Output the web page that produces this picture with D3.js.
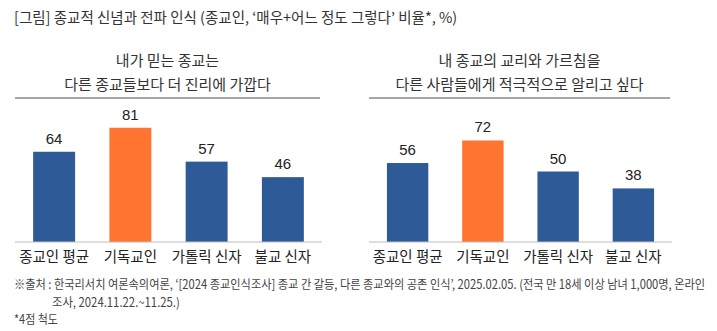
<!DOCTYPE html>
<html><head><meta charset="utf-8">
<script src="https://cdn.jsdelivr.net/npm/d3@7"></script>
<style>
body{margin:0;background:#fff;}
svg{display:block;font-family:"Noto Sans CJK KR","Noto Sans",sans-serif;}
</style></head>
<body>
<svg id="c" width="717" height="331"></svg>
<script>
const categories = ["종교인 평균", "기독교인", "가톨릭 신자", "불교 신자"];
const valuesLeft = [64, 81, 57, 46];
const valuesRight = [56, 72, 50, 38];
const highlight = "기독교인";
const titleLeft = ["내가 믿는 종교는", "다른 종교들보다 더 진리에 가깝다"];
const titleRight = ["내 종교의 교리와 가르침을", "다른 사람들에게 적극적으로 알리고 싶다"];
const mainTitle = "[그림] 종교적 신념과 전파 인식 (종교인, ‘매우+어느 정도 그렇다’ 비율*, %)";
const notes = [
  "※출처 : 한국리서치 여론속의여론, ‘[2024 종교인식조사] 종교 간 갈등, 다른 종교와의 공존 인식’, 2025.02.05. (전국 만 18세 이상 남녀 1,000명, 온라인",
  "조사, 2024.11.22.~11.25.)",
  "*4점 척도"
];

const svg = d3.select("#c");
const BLUE = "#2e5a97", ORANGE = "#fe7430";

svg.append("text").attr("x", 14).attr("y", 23)
  .attr("font-size", 14.5).attr("fill", "#333").text(mainTitle);

function panel(x0, x1, vals, title) {
  const g = svg.append("g");
  const cx = (x0 + x1) / 2;
  title.forEach((t, i) => {
    g.append("text").attr("x", cx).attr("y", 66 + i * 24)
      .attr("text-anchor", "middle").attr("font-size", 15).attr("fill", "#333").text(t);
  });
  g.append("line").attr("x1", x0).attr("x2", x1).attr("y1", 98).attr("y2", 98)
    .attr("stroke", "#8a8a8a").attr("stroke-width", 1.5);
  const x = d3.scaleBand().domain(categories).range([x0 + 1, x1 + 1]).paddingInner(0.45).paddingOuter(0.225);
  const y = d3.scaleLinear().domain([0, 100]).range([242, 101]);
  g.selectAll("rect.bar").data(categories).join("rect")
    .attr("x", d => x(d)).attr("width", x.bandwidth())
    .attr("y", (d, i) => y(vals[i])).attr("height", (d, i) => y(0) - y(vals[i]))
    .attr("fill", d => d === highlight ? ORANGE : BLUE);
  g.selectAll("text.val").data(categories).join("text")
    .attr("x", d => x(d) + x.bandwidth() / 2).attr("y", (d, i) => y(vals[i]) - 8)
    .attr("text-anchor", "middle").attr("font-size", 15)
    .attr("font-family", "Arial, 'Liberation Sans', sans-serif").attr("fill", "#222")
    .text((d, i) => vals[i]);
  g.append("line").attr("x1", x0).attr("x2", x1 + 2).attr("y1", 242).attr("y2", 242)
    .attr("stroke", "#bdbdbd").attr("stroke-width", 1.2);
  const ax = d3.axisBottom(x).tickSize(0).tickPadding(10);
  const axg = g.append("g").attr("transform", "translate(0,242)").call(ax);
  axg.select(".domain").remove();
  axg.selectAll("text").attr("font-size", 14.5).attr("fill", "#222")
    .attr("font-family", "'Noto Sans CJK KR',sans-serif").attr("font-weight", 400);
}
panel(15, 320, valuesLeft, titleLeft);
panel(369, 670, valuesRight, titleRight);

const nt = svg.append("g").attr("font-size", 12.5).attr("fill", "#444");
function fitText(x, y, txt, w) {
  const t = nt.append("text").attr("x", 0).attr("y", 0).text(txt);
  const len = t.node().getComputedTextLength();
  const s = w / len;
  t.attr("transform", `translate(${x},${y}) scale(${s},1)`);
}
fitText(14, 289, notes[0], 692);
fitText(52, 307, notes[1], 128);
fitText(14, 324, notes[2], 44);
</script>
</body></html>
